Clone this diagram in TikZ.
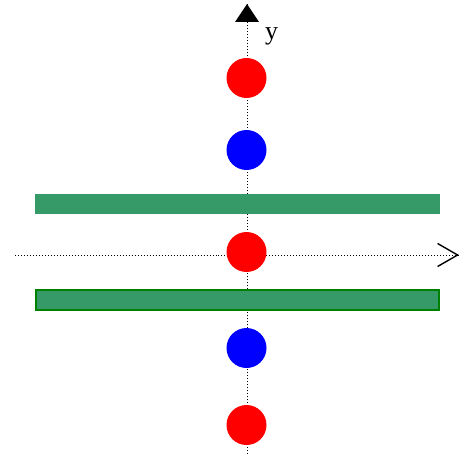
\documentclass[tikz,border=0pt]{standalone}
\usepackage{fontspec}
\setmainfont{Liberation Serif}
\usetikzlibrary{arrows.meta}
\definecolor{plategreen}{RGB}{54,154,104}
\definecolor{edgegreen}{RGB}{0,128,0}
\begin{document}
\begin{tikzpicture}[x=1bp,y=-1bp,
  axis/.style={black,dotted,line width=1bp},
  ball/.style={circle,minimum size=40bp,inner sep=0pt},
  plate/.style={fill=plategreen}]
\useasboundingbox (0,0) rectangle (466,454);
\coordinate (xs) at (15,255);
\coordinate (xe) at (459,255);
\coordinate (ys) at (247,454);
\coordinate (ye) at (247,4);
\draw[axis] (xs) -- (xe);
\draw[black,line width=1.4bp,{Straight Barb[length=20bp,width=23bp]}-] (xe) -- ++(-1,0);
\draw[axis] (ys) -- (ye);
\fill[black] (ye) -- (235,22) -- (259,22) -- cycle;
\node[anchor=base west,font=\fontsize{26}{30}\selectfont,inner sep=0pt] (ylab) at (265,40) {y};
\fill[plate] (35,194) rectangle (440,214);
\draw[plate,draw=edgegreen,line width=1.5bp] (36,290) rectangle (439,310);
\node[ball,fill=red] (r1) at (246.5,78) {};
\node[ball,fill=blue] (b1) at (246.5,150) {};
\node[ball,fill=red] (r2) at (246.5,252) {};
\node[ball,fill=blue] (b2) at (246.5,348) {};
\node[ball,fill=red] (r3) at (246.5,425) {};
\end{tikzpicture}
\end{document}
